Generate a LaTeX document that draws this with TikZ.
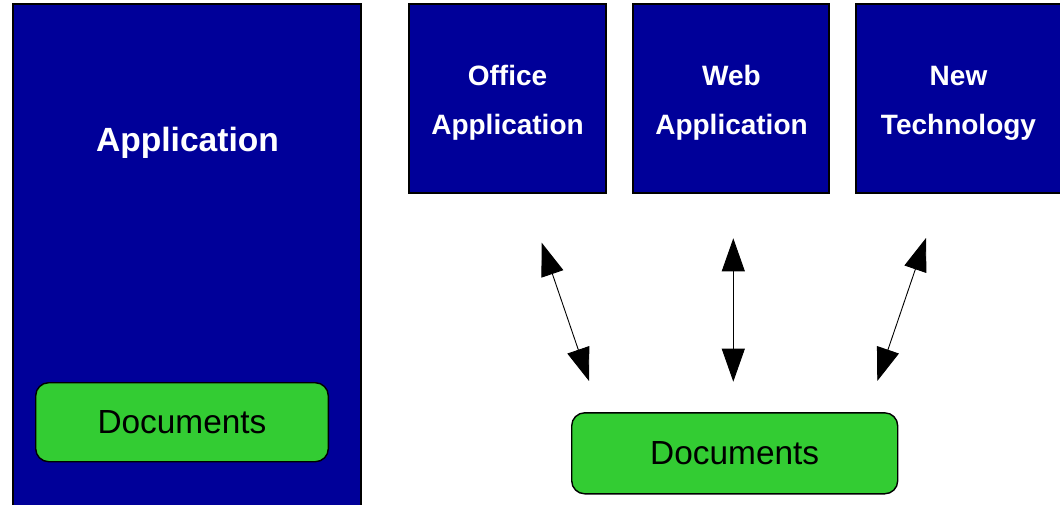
\documentclass[tikz,border=0pt]{standalone}
\usepackage{fontspec}
\setmainfont{Liberation Sans}
\usetikzlibrary{arrows.meta}
\definecolor{appblue}{HTML}{000099}
\definecolor{docgreen}{HTML}{33CC33}
\begin{document}
\begin{tikzpicture}[x=1pt,y=-1pt,
  appbox/.style={draw=black, line width=1.8pt, fill=appblue, inner sep=0pt, outer sep=0pt},
  docbox/.style={draw=black, line width=1.4pt, fill=docgreen, rounded corners=13pt, inner sep=0pt,
                 font=\fontsize{33.4}{40}\selectfont, text=black},
  biglbl/.style={text=white, font=\fontsize{33.6}{40}\selectfont\bfseries, inner sep=0pt, anchor=base},
  lbl/.style={text=white, font=\fontsize{28}{33}\selectfont\bfseries, inner sep=0pt, anchor=base},
  arr/.style={line width=0.9pt, {Triangle[length=33pt,width=23pt]}-{Triangle[length=33pt,width=23pt]}}
]
\useasboundingbox (0,0) rectangle (1060,504);
\clip (0,0) rectangle (1060,504);
\fill[white] (0,0) rectangle (1060,504);

% boxes
\node[appbox, minimum width=348pt, minimum height=526pt] (app) at (187,267) {};
\node[appbox, minimum width=197pt, minimum height=189pt] (office) at (507.5,98.5) {};
\node[appbox, minimum width=196pt, minimum height=189pt] (web) at (731,98.5) {};
\node[appbox, minimum width=205pt, minimum height=189pt] (newtech) at (958.5,98.5) {};

% labels
\node[biglbl] (applbl) at (187.5,151.5) {Application};
\node[lbl] (office1) at (507.5,85.5) {Office};
\node[lbl] (office2) at (507.5,134.5) {Application};
\node[lbl] (web1) at (731.5,85.5) {Web};
\node[lbl] (web2) at (731.5,134.5) {Application};
\node[lbl] (new1) at (958.5,85.5) {New};
\node[lbl] (new2) at (958.5,134.5) {Technology};

% documents
\node[docbox, minimum width=292.6pt, minimum height=79pt] (docleft) at (182,422.2) {Documents};
\node[docbox, minimum width=326pt, minimum height=81pt] (docbottom) at (734.7,453.3) {Documents};

% arrows
\coordinate (a1s) at (541.7,242.7);
\coordinate (a1e) at (589,381);
\coordinate (a2s) at (733.3,238.3);
\coordinate (a2e) at (733.3,381.7);
\coordinate (a3s) at (926,238);
\coordinate (a3e) at (877.3,381);
\draw[arr] (a1s) -- (a1e);
\draw[arr] (a2s) -- (a2e);
\draw[arr] (a3s) -- (a3e);
\end{tikzpicture}
\end{document}
